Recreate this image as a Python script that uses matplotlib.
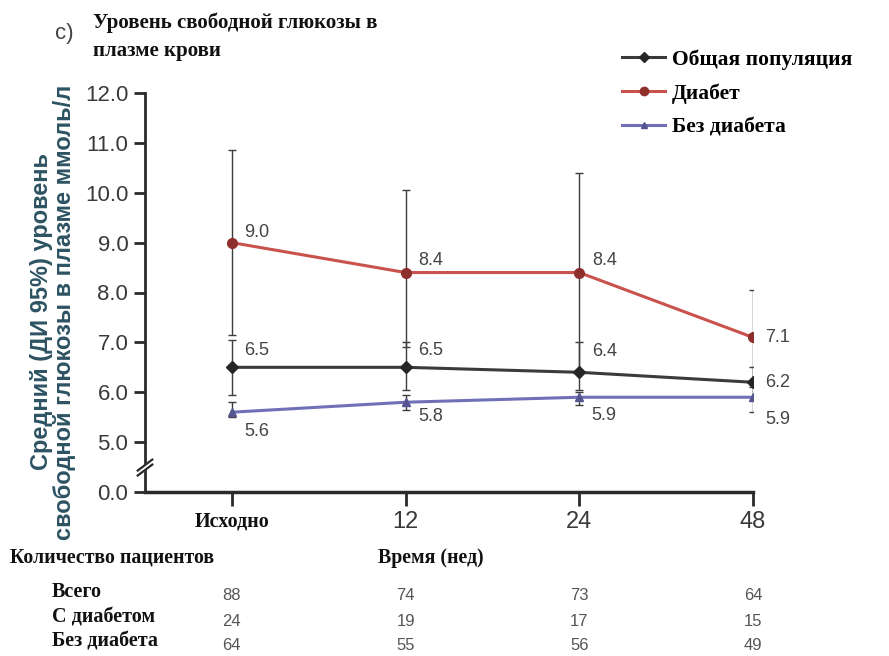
import numpy as np
import matplotlib
matplotlib.use("Agg")
import matplotlib.pyplot as plt
import matplotlib.transforms as mtransforms
from matplotlib.lines import Line2D

# ---- data ----
time_labels = ["Исходно", "12", "24", "48"]

total_mean = [6.5, 6.5, 6.4, 6.2]
total_low = [5.95, 6.05, 6.05, 5.9]
total_high = [7.05, 7.0, 7.0, 6.5]

diab_mean = [9.0, 8.4, 8.4, 7.1]
diab_low = [7.15, 6.9, 6.45, 6.15]
diab_high = [10.85, 10.05, 10.4, 8.05]

nodiab_mean = [5.6, 5.8, 5.9, 5.9]
nodiab_low = [5.5, 5.65, 5.75, 5.6]
nodiab_high = [5.8, 5.95, 6.0, 6.1]

y_ticks = [0.0, 5.0, 6.0, 7.0, 8.0, 9.0, 10.0, 11.0, 12.0]

row_names = ["Всего", "С диабетом", "Без диабета"]
n_total = [88, 74, 73, 64]
n_diab = [24, 19, 17, 15]
n_nodiab = [64, 55, 56, 49]

# 0.0 is drawn one unit below 5.0 (broken axis)
BREAK_ZERO = 4.0

SERIF = ["Liberation Serif", "DejaVu Serif"]
NARROW = ["Liberation Sans Narrow", "Liberation Sans", "DejaVu Sans"]
SANS = ["Liberation Sans", "DejaVu Sans"]
NUM_COLOR = "#444444"

fig = plt.figure(figsize=(8.89, 6.56), dpi=100)
ax = fig.add_axes([145 / 889, 1 - 492 / 656, (753 - 145) / 889, (492 - 93) / 656])

x = np.arange(len(time_labels))

series = [
    ("Общая популяция", total_mean, total_low, total_high, "#3b3b3b", "#262626", "D", 6),
    ("Диабет", diab_mean, diab_low, diab_high, "#c9524c", "#8e2f2c", "o", 7),
    ("Без диабета", nodiab_mean, nodiab_low, nodiab_high, "#7070b8", "#55558f", "^", 6),
]

for name, mean, low, high, lc, mc, mk, ms in series:
    mean = np.array(mean)
    yerr = [mean - np.array(low), np.array(high) - mean]
    ax.errorbar(x, mean, yerr=yerr, fmt="none", ecolor="#3d3d3d",
                elinewidth=1.0, capsize=3, capthick=1.0, zorder=2)

for name, mean, low, high, lc, mc, mk, ms in series:
    ax.plot(x, mean, color=lc, lw=2.2, marker=mk, ms=ms,
            markerfacecolor=mc, markeredgecolor=mc, zorder=3)

# value labels next to the points (offsets in points)
label_offsets = {
    "Общая популяция": [(9, 12), (9, 12), (9, 15), (9, 0)],
    "Диабет": [(9, 7), (9, 9), (9, 9), (9, 0)],
    "Без диабета": [(9, -14), (9, -10), (9, -13), (9, -16)],
}
for name, mean, low, high, lc, mc, mk, ms in series:
    for xi, v, off in zip(x, mean, label_offsets[name]):
        ax.annotate(f"{v:.1f}", (xi, v), xytext=off, textcoords="offset points",
                    ha="left", va="center", fontsize=13, color=NUM_COLOR,
                    family=NARROW)

# axes styling
ax.set_xlim(-0.5, 3)
ax.set_ylim(BREAK_ZERO, 12)
tick_pos = [BREAK_ZERO if v == 0 else v for v in y_ticks]
ax.set_yticks(tick_pos)
ax.set_yticklabels([f"{v:.1f}" for v in y_ticks], family=NARROW,
                   fontsize=16, color="#3a3a3a")
ax.set_xticks(x)
ax.set_xticklabels([])
for side in ["top", "right"]:
    ax.spines[side].set_visible(False)
ax.spines["left"].set_linewidth(2.0)
ax.spines["bottom"].set_linewidth(2.5)
ax.spines["left"].set_color("#2a2a2a")
ax.spines["bottom"].set_color("#2a2a2a")
ax.tick_params(axis="y", length=8, width=2, color="#2a2a2a", pad=4)
ax.tick_params(axis="x", length=10, width=2, color="#2a2a2a")

# x tick labels: first one in serif bold, weeks in narrow sans
xlab_tr = mtransforms.blended_transform_factory(ax.transData, fig.transFigure)
for xi, lab in zip(x, time_labels):
    if xi == 0:
        fig.text(xi, 1 - 522 / 656, lab, transform=xlab_tr, ha="center",
                 va="center", family=SERIF, fontweight="bold", fontsize=14.5,
                 color="#111111")
    else:
        fig.text(xi, 1 - 522 / 656, lab, transform=xlab_tr, ha="center",
                 va="center", family=NARROW, fontsize=17, color="#3a3a3a")

# axis break marks
brk_tr = mtransforms.blended_transform_factory(ax.transAxes, ax.transData)
bx = np.array([-0.012, 0.012])
ax.fill([-0.012, 0.012, 0.012, -0.012], [4.33, 4.55, 4.65, 4.43],
        transform=brk_tr, color="white", clip_on=False, zorder=4)
for y0 in (4.33, 4.43):
    ax.plot(bx, [y0, y0 + 0.22], transform=brk_tr, color="#2a2a2a",
            lw=1.6, clip_on=False, zorder=5)

# y label
fig.text(53 / 889, 1 - 312 / 656,
         "Средний (ДИ 95%) уровень\nсвободной глюкозы в плазме ммоль/л",
         rotation=90, ha="center", va="center", multialignment="center",
         family=SANS, fontweight="bold", fontsize=17, color="#2d5363",
         linespacing=1.02)

# panel title
fig.text(55 / 889, 1 - 34 / 656, "c)", ha="left", va="center",
         family=SANS, fontsize=16, color="#444444")
fig.text(93 / 889, 1 - 37 / 656, "Уровень свободной глюкозы в\nплазме крови",
         ha="left", va="center", family=SERIF, fontweight="bold",
         fontsize=15, color="#111111", linespacing=1.55)

# legend
handles = [Line2D([], [], color=lc, lw=2.2, marker=mk, ms=ms - 1,
                  markerfacecolor=mc, markeredgecolor=mc)
           for name, mean, low, high, lc, mc, mk, ms in series]
fig.legend(handles, [s[0] for s in series], loc="upper left",
           bbox_to_anchor=(603 / 889, 1 - 30 / 656), frameon=False,
           prop={"family": SERIF, "weight": "bold", "size": 15.5},
           handlelength=2.0, handletextpad=0.3, labelspacing=0.62)

# patient counts table
fig.text(10 / 889, 1 - 558 / 656, "Количество пациентов", ha="left",
         va="center", family=SERIF, fontweight="bold", fontsize=14.3,
         color="#111111")
fig.text(431 / 889, 1 - 558 / 656, "Время (нед)", ha="center", va="center",
         family=SERIF, fontweight="bold", fontsize=14.3, color="#111111")

row_y = [592, 617, 641]
for name, counts, ry in zip(row_names, [n_total, n_diab, n_nodiab], row_y):
    fig.text(52 / 889, 1 - ry / 656, name, ha="left", va="center",
             family=SERIF, fontweight="bold", fontsize=14.5, color="#111111")
    for xi, n in zip(x, counts):
        fig.text(xi, 1 - (ry + 4) / 656, str(n), transform=xlab_tr,
                 ha="center", va="center", family=NARROW, fontsize=12,
                 color="#555555")

fig.savefig("out.png", dpi=100)
